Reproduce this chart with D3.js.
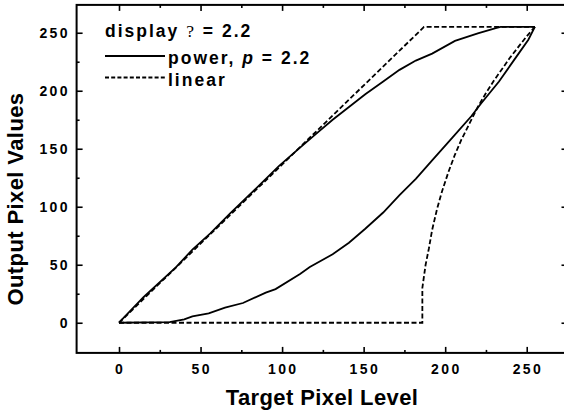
<!DOCTYPE html>
<html>
<head>
    <meta charset="UTF-8">
    <title>Gamma curves</title>
    <script src="https://d3js.org/d3.v7.min.js"></script>
    <style>
        body { margin: 0; background: #fff; }
        text { font-family: Arial, "Liberation Sans", sans-serif; font-weight: bold; fill: #000; }
    </style>
</head>
<body>
    <div id="chart"></div>

    <script type="text/javascript">

        // values
        let linearHiX = [0, 187, 255];
        let linearHiY = [0, 255, 255];

        let powerHiX = [0, 15, 35, 45, 56, 68, 82, 98, 111, 121, 131, 141, 151, 162, 172, 182, 192, 206, 220, 231, 234, 255];
        let powerHiY = [0, 22, 48, 63, 77, 94, 113, 135, 151, 163, 175, 186, 197, 208, 218, 226, 232, 243, 249.5, 254, 255, 255];

        let powerLoX = [0, 31, 40, 45, 55, 65, 76, 90, 96, 111, 117, 131, 141, 151, 162, 172, 182, 192, 204, 216, 222, 233, 245, 251, 255];
        let powerLoY = [0, 0.5, 3, 5.5, 8, 13, 17, 26, 29, 42, 48, 59, 69, 81, 95, 110, 124, 140, 159, 178, 189, 208, 232, 244, 255];

        let linearLoX = [0, 186, 186, 188, 190, 192, 195, 198, 202, 206, 210, 215, 220, 225, 230, 235, 240, 245, 250, 255];
        let linearLoY = [0, 0, 30, 50, 64, 80, 98, 113, 130, 145, 158, 172, 186, 198, 209, 219, 229, 238, 247, 255];

        let majorTicks = [0, 50, 100, 150, 200, 250];
        let minorTicks = [25, 75, 125, 175, 225];
        let xTickLabels = ["0", "50", "100", "150", "200", "250"];
        let yTickLabels = ["0", "50", "100", "150", "200", "250"];

        let width = 564, height = 414;

        let svg = d3.select("#chart")
            .append("svg")
            .attr("width", width)
            .attr("height", height);

        // the frame's right edge sits just past the window
        let x = d3.scaleLinear().domain([-26, 275]).range([76.6, 567.5]);
        let y = d3.scaleLinear().domain([-26, 274]).range([352.9, 4.9]);

        let line = d3.line()
            .x(d => x(d[0]))
            .y(d => y(d[1]));

        // curves
        function drawCurve(xs, ys, dashed) {
            svg.append("path")
                .datum(d3.zip(xs, ys))
                .attr("d", line)
                .attr("fill", "none")
                .attr("stroke", "#000")
                .attr("stroke-width", 1.8)
                .attr("stroke-dasharray", dashed ? "5,2.5" : null);
        }
        drawCurve(linearHiX, linearHiY, true);
        drawCurve(linearLoX, linearLoY, true);
        drawCurve(powerHiX, powerHiY, false);
        drawCurve(powerLoX, powerLoY, false);

        // frame with inward ticks on all four sides
        let x0 = x.range()[0], x1 = x.range()[1];
        let yb = y.range()[0], yt = y.range()[1];

        function ticks(axis, pos, vals, size) {
            svg.append("g")
                .attr("transform", pos)
                .call(axis.tickValues(vals).tickSizeInner(-size).tickSizeOuter(0).tickFormat(""));
        }
        ticks(d3.axisBottom(x), "translate(0," + yb + ")", majorTicks, 6);
        ticks(d3.axisBottom(x), "translate(0," + yb + ")", minorTicks, 3);
        ticks(d3.axisTop(x), "translate(0," + yt + ")", majorTicks, 6);
        ticks(d3.axisTop(x), "translate(0," + yt + ")", minorTicks, 3);
        ticks(d3.axisLeft(y), "translate(" + x0 + ",0)", majorTicks, 6);
        ticks(d3.axisLeft(y), "translate(" + x0 + ",0)", minorTicks, 3);
        ticks(d3.axisRight(y), "translate(" + x1 + ",0)", majorTicks, 6);
        ticks(d3.axisRight(y), "translate(" + x1 + ",0)", minorTicks, 3);

        svg.selectAll(".domain").remove();
        svg.selectAll(".tick line").attr("stroke", "#000").attr("stroke-width", 1.6);

        svg.append("rect")
            .attr("x", x0)
            .attr("y", yt)
            .attr("width", x1 - x0)
            .attr("height", yb - yt)
            .attr("fill", "none")
            .attr("stroke", "#000")
            .attr("stroke-width", 2);

        // tick labels
        svg.selectAll(".xlab")
            .data(majorTicks)
            .enter()
            .append("text")
            .attr("x", d => x(d) + 1.2)
            .attr("y", 373.5)
            .attr("text-anchor", "middle")
            .style("font-size", "14px")
            .style("letter-spacing", "2.4px")
            .text((d, i) => xTickLabels[i]);

        svg.selectAll(".ylab")
            .data(majorTicks)
            .enter()
            .append("text")
            .attr("x", 70)
            .attr("y", d => y(d) + 5)
            .attr("text-anchor", "end")
            .style("font-size", "14px")
            .style("letter-spacing", "2.4px")
            .text((d, i) => yTickLabels[i]);

        // axis titles
        svg.append("text")
            .attr("x", 322)
            .attr("y", 405)
            .attr("text-anchor", "middle")
            .style("font-size", "22px")
            .style("letter-spacing", "0.4px")
            .text("Target Pixel Level");

        svg.append("text")
            .attr("transform", "translate(23,199) rotate(-90)")
            .attr("text-anchor", "middle")
            .style("font-size", "22px")
            .style("letter-spacing", "0.4px")
            .text("Output Pixel Values");

        // legend
        let legend = svg.append("g").style("font-size", "17.5px").style("letter-spacing", "2px");

        let t1 = legend.append("text").attr("x", 105).attr("y", 37);
        t1.append("tspan").text("display ");
        t1.append("tspan")
            .style("font-family", "'Liberation Serif', 'DejaVu Serif', serif")
            .style("font-weight", "normal")
            .text("?");
        t1.append("tspan").text(" = 2.2");

        legend.append("line")
            .attr("x1", 105).attr("x2", 165)
            .attr("y1", 56).attr("y2", 56)
            .attr("stroke", "#000").attr("stroke-width", 1.8);
        let t2 = legend.append("text").attr("x", 168).attr("y", 63.5);
        t2.append("tspan").text("power, ");
        t2.append("tspan").style("font-style", "italic").text("p");
        t2.append("tspan").text(" = 2.2");

        legend.append("line")
            .attr("x1", 105).attr("x2", 165)
            .attr("y1", 77.5).attr("y2", 77.5)
            .attr("stroke", "#000").attr("stroke-width", 1.8)
            .attr("stroke-dasharray", "4,2.2");
        legend.append("text").attr("x", 168).attr("y", 86).text("linear");

    </script>
</body>
</html>
